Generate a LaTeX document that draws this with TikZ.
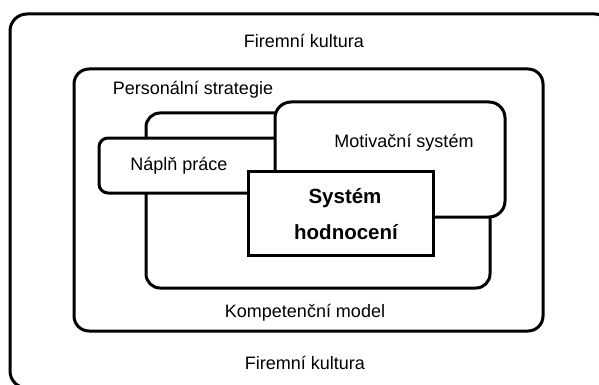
\documentclass[tikz,border=0pt]{standalone}
\usepackage{fontspec}
\setmainfont{Liberation Sans}
\usetikzlibrary{positioning}

\begin{document}
\begin{tikzpicture}[x=1pt, y=-1pt,
	ramec/.style={line width=3pt, fill=white, rounded corners=#1},
	ramec/.default=15pt,
	popis/.style={anchor=base, inner sep=0pt, font=\fontsize{18}{20}\selectfont},
	tucny/.style={popis, font=\fontsize{20.5}{22}\selectfont\bfseries}]
	%%%%% START %%%%%
	
	\useasboundingbox (0, 0) rectangle (599, 385);
	\clip (0, 0) rectangle (599, 385);
	
	% firemni kultura
	\draw[ramec=17pt] (10, 14) rectangle (612, 388);
	\node[popis] (kultura1) at (304, 48) {Firemní kultura};
	\node[popis] (kultura2) at (305, 369) {Firemní kultura};
	
	% personalni strategie
	\draw[ramec] (74, 69) rectangle (543, 331);
	\node[popis] (strategie) at (193, 95) {Personální strategie};
	\node[popis] (kompetence) at (305, 317) {Kompetenční model};
	
	% kompetencni model
	\draw[ramec=14pt] (146, 113) rectangle (490, 288);
	
	% napln prace
	\draw[ramec=9pt] (99, 138) rectangle (300, 193);
	\node[popis] (napln) at (179, 170) {Náplň práce};
	
	% motivacni system
	\draw[ramec=16pt] (275, 102) rectangle (505, 217);
	\node[popis] (motivace) at (404, 147) {Motivační systém};
	
	% system hodnoceni
	\draw[line width=3pt, fill=white] (248, 171) rectangle (433, 255);
	\node[tucny] (system) at (345, 203) {Systém};
	\node[tucny] (hodnoceni) at (346, 239) {hodnocení};
	
	%%%%% END %%%%%
\end{tikzpicture}
\end{document}
